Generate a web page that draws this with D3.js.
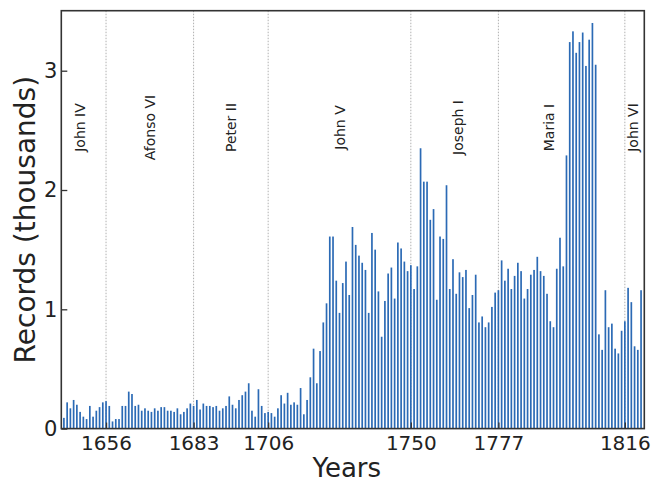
<!DOCTYPE html>
<html>
<head>
<meta charset="utf-8">
<script src="https://cdn.jsdelivr.net/npm/d3@7"></script>
<style>
  html, body { margin: 0; padding: 0; background: #fff; }
  svg { display: block; }
  text { font-family: "DejaVu Sans", sans-serif; fill: #222; }
</style>
</head>
<body>
<svg id="chart" width="651" height="483"></svg>
<script>
// Yearly record counts (thousands), one value per year from 1643 to 1821
const firstYear = 1643;
const records = [
  0.09, 0.22, 0.17, 0.24, 0.20, 0.14, 0.10, 0.08, 0.19, 0.10,
  0.15, 0.18, 0.22, 0.23, 0.19, 0.06, 0.08, 0.08, 0.19, 0.19,
  0.31, 0.29, 0.19, 0.20, 0.15, 0.17, 0.15, 0.14, 0.17, 0.15,
  0.18, 0.18, 0.15, 0.15, 0.14, 0.17, 0.12, 0.14, 0.17, 0.21,
  0.19, 0.24, 0.16, 0.21, 0.19, 0.19, 0.18, 0.19, 0.15, 0.17,
  0.19, 0.27, 0.20, 0.17, 0.24, 0.28, 0.31, 0.38, 0.15, 0.10,
  0.33, 0.19, 0.13, 0.14, 0.13, 0.10, 0.17, 0.28, 0.21, 0.30,
  0.20, 0.22, 0.20, 0.34, 0.12, 0.24, 0.43, 0.67, 0.38, 0.65,
  0.89, 1.05, 1.61, 1.61, 1.24, 0.97, 1.22, 1.40, 1.12, 1.69,
  1.54, 1.45, 1.39, 1.33, 0.97, 1.64, 1.50, 1.15, 0.77, 1.07,
  1.30, 1.35, 1.09, 1.56, 1.51, 1.40, 1.32, 1.37, 1.17, 1.36,
  2.35, 2.07, 2.07, 1.75, 1.84, 1.08, 1.61, 1.59, 2.04, 1.17,
  1.42, 1.13, 1.31, 1.27, 1.33, 1.01, 1.12, 1.29, 0.89, 0.94,
  0.85, 0.89, 1.02, 1.14, 1.16, 1.41, 1.24, 1.34, 1.17, 1.28,
  1.39, 1.32, 1.09, 1.17, 1.29, 1.33, 1.44, 1.32, 1.28, 1.13,
  0.90, 0.85, 1.34, 1.60, 1.36, 2.29, 3.24, 3.33, 3.15, 3.24,
  3.32, 3.04, 3.26, 3.40, 3.05, 0.79, 0.66, 1.16, 0.85, 0.88,
  0.67, 0.63, 0.82, 0.90, 1.18, 1.06, 0.69, 0.66, 1.16
];
const years = records.map((_, i) => firstYear + i);

// Start years of successive reigns (drawn as dotted dividers and x ticks)
const reignStarts = [1656, 1683, 1706, 1750, 1777, 1816];
// Monarch names and the year at which each name is centred
const monarchs = ["John IV", "Afonso VI", "Peter II", "John V", "Joseph I", "Maria I", "John VI"];
const monarchLabelYears = [1648, 1669.5, 1694.5, 1728, 1764.5, 1792.5, 1818.5];
const yTicks = [0, 1, 2, 3];

const svg = d3.select("#chart");
const plotLeft = 61.3, plotRight = 644.3, plotTop = 10.7, plotBottom = 428.6;

const x = d3.scaleLinear().domain([1642.2, 1822.0]).range([plotLeft, plotRight]);
const y = d3.scaleLinear().domain([0, 3.503]).range([plotBottom, plotTop]);
const barW = x(firstYear + 0.52) - x(firstYear);

// Reign dividers
svg.append("g").selectAll("line")
  .data(reignStarts)
  .join("line")
  .attr("x1", d => x(d)).attr("x2", d => x(d))
  .attr("y1", plotTop).attr("y2", plotBottom)
  .attr("stroke", "#b0b0b0")
  .attr("stroke-width", 1)
  .attr("stroke-dasharray", "1.5,1.5");

// Bars
svg.append("g").selectAll("rect")
  .data(years)
  .join("rect")
  .attr("x", d => x(d) - barW / 2)
  .attr("width", barW)
  .attr("y", (d, i) => y(records[i]))
  .attr("height", (d, i) => y(0) - y(records[i]))
  .attr("fill", "#2b6ab5");

// Monarch names
svg.append("g").selectAll("text")
  .data(monarchs)
  .join("text")
  .attr("transform", (d, i) => `translate(${x(monarchLabelYears[i]) + 5},127.5) rotate(-90)`)
  .attr("text-anchor", "middle")
  .attr("font-size", 14)
  .text(d => d);

// Axes with inward ticks
const yAxis = d3.axisLeft(y).tickValues(yTicks).tickFormat(d3.format("d"))
  .tickSizeInner(-6).tickSizeOuter(0).tickPadding(4);
const gy = svg.append("g").attr("transform", `translate(${plotLeft},0)`).call(yAxis);
gy.select(".domain").remove();
gy.selectAll(".tick line").attr("stroke", "#333").attr("stroke-width", 1.3);
gy.selectAll(".tick text").attr("font-size", 21).attr("fill", "#222")
  .attr("font-family", "DejaVu Sans");

const xAxis = d3.axisBottom(x).tickValues(reignStarts).tickFormat(d3.format("d"))
  .tickSizeInner(-6).tickSizeOuter(0).tickPadding(7);
const gx = svg.append("g").attr("transform", `translate(0,${plotBottom})`).call(xAxis);
gx.select(".domain").remove();
gx.selectAll(".tick line").attr("stroke", "#333").attr("stroke-width", 1.3);
gx.selectAll(".tick text").attr("font-size", 20).attr("fill", "#222")
  .attr("font-family", "DejaVu Sans");

// Frame
svg.append("rect")
  .attr("x", plotLeft).attr("y", plotTop)
  .attr("width", plotRight - plotLeft).attr("height", plotBottom - plotTop)
  .attr("fill", "none").attr("stroke", "#333").attr("stroke-width", 1.6);

// Axis titles
svg.append("text")
  .attr("x", (plotLeft + plotRight) / 2 - 6).attr("y", 477)
  .attr("text-anchor", "middle").attr("font-size", 26)
  .text("Years");

svg.append("text")
  .attr("transform", `translate(35,${(plotTop + plotBottom) / 2}) rotate(-90)`)
  .attr("text-anchor", "middle").attr("font-size", 28)
  .text("Records (thousands)");
</script>
</body>
</html>
